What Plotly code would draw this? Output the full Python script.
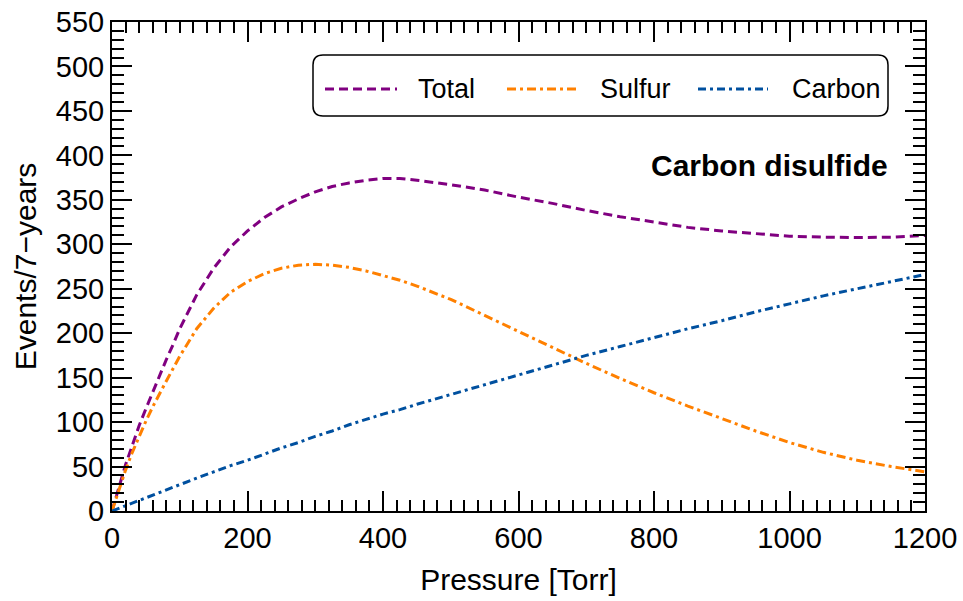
import plotly.graph_objects as go

pressure = [0, 10, 20, 30, 40, 50, 60, 70, 80, 90, 100, 125, 150, 175, 200, 225, 250, 275,
            300, 325, 350, 375, 400, 425, 450, 500, 550, 600, 650, 700, 750, 800, 850, 900,
            950, 1000, 1050, 1100, 1150, 1200]
total = [0, 27, 52, 74, 96, 115, 134, 152, 170, 187, 205, 243, 273, 297, 315, 330, 342, 351,
         359, 365, 369, 372, 374, 374, 372, 367, 361, 353, 346, 338, 331, 325, 319, 315,
         312, 309, 308, 307.5, 308, 310]
sulfur = [0, 24, 46, 66, 84, 101, 117, 132, 146, 160, 174, 205, 228, 246, 258, 267, 273, 276.5,
          277.5, 276.5, 274, 270, 265, 259.5, 253, 238, 220, 202, 184, 166, 149, 133, 118, 104,
          90, 77, 66, 57, 50, 44]
carbon = [0, 3, 6, 9, 12, 15, 18, 21, 24, 27, 30, 37, 44, 51, 57, 64, 71, 77,
          84, 90, 97, 103, 109, 114, 120, 131, 142, 153, 164, 175, 185, 195, 205, 214,
          224, 233, 242, 250, 258, 266]

series_names = ["Total", "Sulfur", "Carbon"]
series_colors = ["#800080", "#FF8000", "#00509F"]
series_dash = ["9px,5px", "9px,4px,3px,4px", "8px,4px,3px,4px"]
series_values = [total, sulfur, carbon]

FONT = "Liberation Sans, Arial, Helvetica, sans-serif"
W, H = 963, 601
PL, PR, PT, PB = 112, 925, 22, 511  # plot area in page pixels
ML, MT, MR, MB = PL, PT, W - PR, H - PB
PW, PH = PR - PL, PB - PT

def px(xp):
    return (xp - PL) / PW

def py(yp):
    return (PB - yp) / PH

fig = go.Figure()
for name, vals, col, dash in zip(series_names, series_values, series_colors, series_dash):
    fig.add_trace(go.Scatter(x=pressure, y=vals, mode="lines", name=name,
                             line=dict(color=col, width=3, dash=dash, shape="linear"),
                             showlegend=False))

axis_common = dict(
    showgrid=False, zeroline=False, showline=True, linecolor="black", linewidth=2,
    mirror="allticks", ticks="inside", ticklen=20, tickwidth=2, tickcolor="black",
    tickfont=dict(family=FONT, size=29, color="black"), automargin=False,
    ticklabeloverflow="allow",
)
fig.update_xaxes(range=[0, 1200], dtick=200, tick0=0,
                 minor=dict(dtick=20, ticks="inside", ticklen=11, tickwidth=2, tickcolor="black"),
                 title=dict(text="Pressure [Torr]", font=dict(family=FONT, size=30, color="black"), standoff=16),
                 **axis_common)
fig.update_yaxes(range=[0, 550], dtick=50, tick0=0,
                 minor=dict(dtick=10, ticks="inside", ticklen=12, tickwidth=2, tickcolor="black"),
                 title=dict(text="Events/7\u2212years", font=dict(family=FONT, size=30, color="black"), standoff=10),
                 **axis_common)

# legend box (rounded) drawn in paper coords
x0, x1, y0, y1, r = px(313), px(888), py(55), py(116), 10
rx, ry = r / PW, r / PH
path = (f"M {x0+rx},{y0} L {x1-rx},{y0} Q {x1},{y0} {x1},{y0-ry} "
        f"L {x1},{y1+ry} Q {x1},{y1} {x1-rx},{y1} L {x0+rx},{y1} "
        f"Q {x0},{y1} {x0},{y1+ry} L {x0},{y0-ry} Q {x0},{y0} {x0+rx},{y0} Z")
shapes = [dict(type="path", xref="paper", yref="paper", path=path,
               line=dict(color="black", width=1.5), fillcolor="white", layer="below")]
annotations = []
leg_y = py(89)
sample_x = [(325, 397, 416), (507, 577, 598), (698, 768, 790)]
for (sx0, sx1, tx), name, col, dash in zip(sample_x, series_names, series_colors, series_dash):
    shapes.append(dict(type="line", xref="paper", yref="paper", x0=px(sx0), x1=px(sx1),
                       y0=leg_y, y1=leg_y, line=dict(color=col, width=3, dash=dash)))
    annotations.append(dict(xref="paper", yref="paper", x=px(tx), y=leg_y, text=name,
                            showarrow=False, xanchor="left", yanchor="middle",
                            font=dict(family=FONT, size=27, color="black")))
annotations.append(dict(xref="paper", yref="paper", x=px(890), y=py(165), text="<b>Carbon disulfide</b>",
                        showarrow=False, xanchor="right", yanchor="middle",
                        font=dict(family=FONT, size=30, color="black")))

fig.update_layout(width=W, height=H, margin=dict(l=ML, r=MR, t=MT, b=MB, autoexpand=False),
                  plot_bgcolor="white", paper_bgcolor="white",
                  shapes=shapes, annotations=annotations)
fig.write_html("out.html", config={"displayModeBar": False},
               post_script="document.body.style.margin='0';document.body.style.overflow='hidden';")
